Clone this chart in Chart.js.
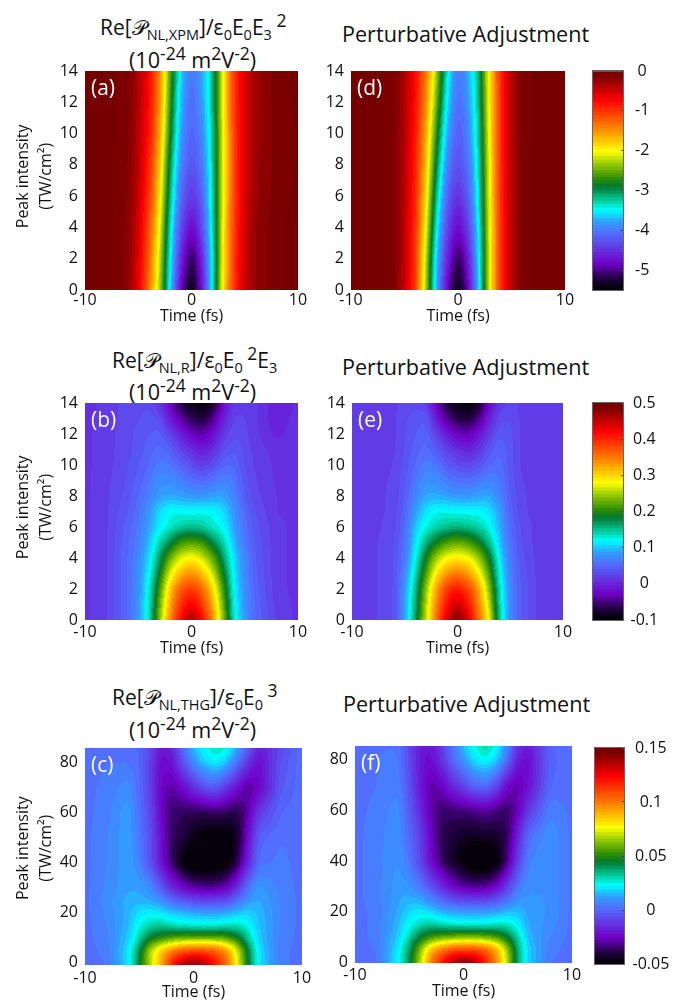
<!DOCTYPE html>
<html lang="en">

<head>
    <meta charset="UTF-8">
    <title>Perturbative Adjustment</title>
    <script src="https://cdn.jsdelivr.net/npm/chart.js"></script>
    <style>
        body {
            margin: 0;
            background: #FFFFFF;
            width: 693px;
            height: 1003px;
            position: relative;
            overflow: hidden;
            font-family: 'Open Sans', sans-serif;
            color: #111;
        }

        canvas {
            position: absolute;
        }

        .ttl {
            position: absolute;
            font-size: 21px;
            line-height: 26px;
            white-space: nowrap;
        }

        .ttl.big {
            font-size: 21.6px;
        }

        .ttl sub,
        .ttl sup {
            font-size: 14.5px;
            line-height: 0;
        }

        .ttl sub {
            vertical-align: -5px;
        }

        .ttl sup {
            font-size: 17.5px;
            vertical-align: 8px;
        }
    </style>
</head>

<body>
    <div class="ttl" style="left:100px;top:14px">Re[𝒫<sub>NL,XPM</sub>]/ε<sub>0</sub>E<sub>0</sub>E<sub>3</sub><sup>&nbsp;2</sup></div>
    <div class="ttl big" style="left:129px;top:47px">(10<sup>-24</sup> m<sup>2</sup>V<sup>-2</sup>)</div>
    <div class="ttl big" style="left:342px;top:21px">Perturbative Adjustment</div>

    <div class="ttl" style="left:112px;top:347px">Re[𝒫<sub>NL,R</sub>]/ε<sub>0</sub>E<sub>0</sub><sup>&nbsp;2</sup>E<sub>3</sub></div>
    <div class="ttl big" style="left:129px;top:379px">(10<sup>-24</sup> m<sup>2</sup>V<sup>-2</sup>)</div>
    <div class="ttl big" style="left:342px;top:354px">Perturbative Adjustment</div>

    <div class="ttl" style="left:112px;top:684px">Re[𝒫<sub>NL,THG</sub>]/ε<sub>0</sub>E<sub>0</sub><sup>&nbsp;3</sup></div>
    <div class="ttl big" style="left:129px;top:717px">(10<sup>-24</sup> m<sup>2</sup>V<sup>-2</sup>)</div>
    <div class="ttl big" style="left:343px;top:691px">Perturbative Adjustment</div>

    <script>
        const timeCols = [-10, -8, -6, -5, -4, -3, -2, -1, 0, 1, 2, 3, 4, 5, 6, 8, 10];
        const timeTicks = [-10, 0, 10];

        const rowsAD = [0, 2, 4, 6, 8, 10, 12, 14];
        const rowsBE = [0, 2, 4, 5, 6, 7, 8, 10, 11, 12, 13, 14];
        const rowsCF = [0, 5, 10, 15, 20, 25, 30, 40, 50, 60, 70, 80, 85];
        const ticksAD = [0, 2, 4, 6, 8, 10, 12, 14];
        const ticksCF = [0, 20, 40, 60, 80];

        // values, one line per row of peak intensity
        const valuesA = [
            [-.05, -.05, -.2, -.6, -1.35, -2.25, -3.6, -4.85, -5.5, -4.75, -3.4, -1.85, -1.0, -.45, -.25, -.1, -.05],
            [-.05, -.05, -.2, -.55, -1.25, -2.15, -3.5, -4.6, -5.25, -4.6, -3.4, -1.9, -1.0, -.5, -.25, -.1, -.05],
            [-.05, -.05, -.18, -.5, -1.15, -2.0, -3.4, -4.35, -4.85, -4.35, -3.35, -1.95, -1.05, -.5, -.25, -.1, -.05],
            [-.05, -.05, -.16, -.45, -1.0, -1.85, -3.2, -4.15, -4.5, -4.2, -3.3, -2.0, -1.05, -.55, -.28, -.12, -.06],
            [-.05, -.05, -.15, -.42, -.9, -1.7, -3.05, -4.0, -4.3, -4.05, -3.3, -2.0, -1.05, -.55, -.28, -.14, -.07],
            [-.05, -.05, -.14, -.4, -.8, -1.55, -2.85, -3.85, -4.2, -3.95, -3.25, -2.0, -1.05, -.55, -.3, -.14, -.07],
            [-.05, -.05, -.13, -.37, -.75, -1.45, -2.7, -3.75, -4.15, -3.85, -3.2, -2.0, -1.0, -.55, -.3, -.13, -.06],
            [-.05, -.05, -.12, -.35, -.7, -1.4, -2.6, -3.65, -4.1, -3.8, -3.2, -2.0, -1.0, -.55, -.3, -.12, -.05]
        ];
        const valuesD = [
            [-.05, -.05, -.12, -.45, -1.0, -2.3, -3.8, -4.85, -5.5, -4.85, -3.55, -2.0, -.95, -.4, -.12, -.05, -.05],
            [-.05, -.05, -.12, -.42, -.98, -2.2, -3.7, -4.6, -5.25, -4.65, -3.5, -2.0, -.95, -.4, -.12, -.05, -.05],
            [-.05, -.05, -.12, -.42, -.95, -2.0, -3.5, -4.4, -4.85, -4.4, -3.45, -1.98, -.95, -.4, -.12, -.05, -.05],
            [-.05, -.05, -.12, -.4, -.9, -1.85, -3.25, -4.2, -4.55, -4.2, -3.35, -1.95, -.93, -.4, -.12, -.05, -.05],
            [-.05, -.05, -.12, -.4, -.87, -1.7, -3.0, -4.0, -4.35, -4.05, -3.3, -1.95, -.92, -.4, -.12, -.05, -.05],
            [-.05, -.05, -.12, -.38, -.83, -1.6, -2.75, -3.8, -4.25, -3.95, -3.2, -1.92, -.9, -.38, -.12, -.05, -.05],
            [-.05, -.05, -.12, -.37, -.78, -1.45, -2.5, -3.6, -4.15, -3.85, -3.15, -1.88, -.9, -.38, -.12, -.05, -.05],
            [-.05, -.05, -.12, -.35, -.75, -1.35, -2.3, -3.45, -4.1, -3.75, -3.1, -1.85, -.9, -.38, -.12, -.05, -.05]
        ];
        const valuesB = [
            [.01, .02, .05, .08, .13, .24, .344, .42, .47, .42, .34, .24, .125, .08, .05, .02, .01],
            [.01, .02, .05, .075, .125, .21, .31, .37, .39, .36, .3, .21, .115, .075, .045, .015, .01],
            [.01, .02, .05, .07, .105, .165, .23, .27, .285, .265, .225, .165, .105, .07, .04, .015, .01],
            [.01, .02, .048, .065, .095, .14, .175, .21, .22, .21, .175, .14, .095, .06, .038, .015, .01],
            [.01, .02, .045, .06, .085, .115, .13, .145, .15, .145, .13, .12, .085, .055, .035, .015, .01],
            [.01, .02, .04, .055, .08, .108, .122, .122, .118, .122, .12, .108, .08, .05, .03, .012, .01],
            [.01, .02, .035, .05, .065, .085, .09, .085, .08, .08, .085, .088, .068, .04, .025, .012, .01],
            [.01, .018, .03, .04, .05, .065, .06, .045, .03, .015, .03, .05, .05, .03, .02, .01, .01],
            [.01, .018, .028, .035, .045, .055, .045, .02, .005, -.01, .005, .03, .04, .028, .018, .008, .01],
            [.01, .018, .028, .035, .04, .045, .02, -.005, -.03, -.04, -.02, .015, .03, .025, .015, 0, .01],
            [.01, .015, .028, .03, .035, .03, -.01, -.04, -.065, -.075, -.05, -.005, .025, .022, .015, -.005, .008],
            [.01, .015, .028, .03, .03, .01, -.03, -.07, -.09, -.1, -.08, -.025, .015, .02, .015, -.005, .005]
        ];
        const valuesE = [
            [.015, .02, .03, .085, .165, .26, .36, .44, .49, .44, .36, .28, .14, .07, .04, .015, .015],
            [.015, .02, .03, .08, .15, .24, .33, .39, .41, .385, .33, .24, .13, .07, .04, .015, .015],
            [.015, .02, .03, .06, .12, .19, .25, .28, .29, .28, .245, .19, .11, .06, .035, .015, .015],
            [.015, .02, .03, .055, .11, .155, .19, .215, .225, .215, .19, .15, .1, .055, .03, .015, .015],
            [.015, .018, .028, .05, .1, .125, .14, .15, .155, .15, .14, .125, .09, .05, .03, .015, .015],
            [.015, .018, .025, .045, .085, .11, .124, .124, .12, .12, .12, .11, .085, .045, .025, .015, .015],
            [.015, .018, .025, .04, .068, .09, .09, .085, .08, .08, .085, .09, .068, .04, .025, .015, .015],
            [.015, .018, .022, .035, .05, .065, .06, .04, .03, .025, .035, .05, .055, .035, .02, .015, .015],
            [.015, .018, .02, .032, .045, .055, .04, .02, .005, -.005, .01, .035, .05, .035, .02, .015, .015],
            [.015, .018, .02, .03, .04, .05, .02, -.01, -.03, -.035, -.015, .015, .04, .035, .02, .015, .015],
            [.015, .018, .02, .03, .035, .04, -.01, -.045, -.07, -.075, -.05, -.005, .03, .03, .02, .015, .015],
            [.015, .018, .02, .025, .03, .02, -.03, -.075, -.095, -.1, -.08, -.025, .015, .025, .02, .015, .015]
        ];
        const valuesC = [
            [.002, .003, .02, .044, .068, .09, .118, .135, .142, .135, .12, .105, .076, .046, .02, .004, .002],
            [.002, .004, .02, .04, .068, .085, .097, .105, .108, .108, .105, .095, .073, .043, .02, .004, .002],
            [.002, .005, .017, .03, .044, .05, .055, .058, .058, .058, .058, .055, .047, .032, .017, .005, .002],
            [.002, .006, .015, .024, .03, .032, .028, .026, .025, .024, .025, .027, .028, .024, .016, .006, .002],
            [.002, .007, .014, .02, .022, .02, .017, .015, .013, .012, .012, .013, .016, .018, .015, .006, .002],
            [.002, .008, .014, .014, .012, .008, 0, -.006, -.009, -.011, -.01, -.008, 0, .01, .013, .006, .002],
            [.002, .007, .012, .012, .008, -.004, -.016, -.024, -.03, -.032, -.032, -.028, -.015, .002, .011, .005, .002],
            [.002, .006, .012, .006, -.006, -.022, -.036, -.05, -.056, -.056, -.055, -.052, -.04, -.018, .002, .004, .002],
            [.002, .006, .012, .004, -.006, -.022, -.037, -.04, -.047, -.05, -.053, -.052, -.045, -.024, -.002, .003, .002],
            [.002, .005, .012, .002, -.008, -.026, -.036, -.037, -.038, -.038, -.036, -.037, -.04, -.03, -.012, 0, .002],
            [.002, .004, .008, .001, -.01, -.026, -.03, -.024, -.014, -.006, -.002, -.012, -.022, -.032, -.027, -.004, .002],
            [.002, .003, .003, 0, -.01, -.024, -.022, -.006, .008, .018, .022, .017, .002, -.012, -.024, -.006, .002],
            [.002, .002, .002, 0, -.008, -.022, -.018, 0, .015, .023, .028, .026, .012, -.003, -.02, -.008, .002]
        ];
        const valuesF = [
            [.002, .002, .023, .04, .068, .1, .12, .137, .145, .137, .12, .098, .07, .036, .017, .003, .002],
            [.002, .003, .021, .038, .062, .088, .1, .108, .11, .11, .105, .092, .066, .036, .017, .004, .002],
            [.002, .004, .017, .03, .044, .052, .056, .058, .06, .06, .058, .054, .045, .03, .014, .006, .002],
            [.002, .004, .015, .023, .029, .032, .028, .026, .025, .024, .025, .027, .027, .022, .012, .008, .002],
            [.002, .004, .013, .019, .021, .018, .014, .012, .011, .011, .011, .012, .015, .016, .011, .009, .002],
            [.002, .005, .012, .014, .012, .006, -.002, -.008, -.011, -.012, -.012, -.008, 0, .009, .01, .009, .002],
            [.002, .005, .011, .01, .004, -.006, -.016, -.026, -.031, -.033, -.032, -.026, -.012, .003, .009, .009, .002],
            [.002, .005, .01, .003, -.008, -.024, -.036, -.044, -.05, -.056, -.056, -.052, -.035, -.01, .006, .009, .002],
            [.002, .005, .009, 0, -.01, -.026, -.038, -.042, -.044, -.045, -.044, -.043, -.038, -.018, .002, .009, .002],
            [.002, .004, .008, -.003, -.016, -.03, -.036, -.035, -.034, -.033, -.03, -.034, -.037, -.028, -.012, .006, .002],
            [.002, .003, .006, -.006, -.02, -.03, -.026, -.016, -.008, 0, .002, -.006, -.024, -.03, -.022, 0, .002],
            [.002, .003, .004, -.008, -.02, -.024, -.014, 0, .01, .02, .024, .018, .002, -.02, -.024, -.001, .002],
            [.002, .003, .003, -.008, -.02, -.022, -.012, .003, .016, .024, .031, .024, .008, -.015, -.02, 0, .002]
        ];

        const barTicks1 = [0, -1, -2, -3, -4, -5];
        const barTicks2 = [0.5, 0.4, 0.3, 0.2, 0.1, 0, -0.1];
        const barTicks3 = [0.15, 0.1, 0.05, 0, -0.05];

        // colormap stops from the colorbars, bottom to top
        const mapStops = [
            [0, '#000000'], [.05, '#200040'], [.12, '#7000c8'], [.2, '#6040e8'], [.26, '#5070ff'],
            [.31, '#30a0ff'], [.363, '#00ffff'], [.405, '#00d0a0'], [.47, '#007830'], [.51, '#309000'],
            [.58, '#a0d000'], [.63, '#ffff00'], [.74, '#ff8000'], [.867, '#ff0000'], [.97, '#800000'], [1, '#700000']
        ];
        const LEVELS = 64;

        const FONT = "'Open Sans', sans-serif";
        Chart.defaults.font.family = FONT;
        Chart.defaults.font.size = 16;
        Chart.defaults.color = '#111';
        Chart.defaults.animation = false;
        Chart.defaults.responsive = false;
        Chart.defaults.plugins.legend.display = false;
        Chart.defaults.plugins.tooltip.enabled = false;

        function hexRgb(h) {
            return [1, 3, 5].map(i => parseInt(h.substr(i, 2), 16));
        }

        const ramp = [];
        for (let i = 0; i < LEVELS; i++) {
            let f = (i + .5) / LEVELS;
            let k = 0;
            while (k < mapStops.length - 2 && f > mapStops[k + 1][0]) k++;
            let a = mapStops[k], b = mapStops[k + 1];
            let u = (f - a[0]) / (b[0] - a[0]);
            let ca = hexRgb(a[1]), cb = hexRgb(b[1]);
            ramp.push(ca.map((c, j) => Math.round(c + (cb[j] - c) * u)));
        }

        function colorIndex(v, lo, hi) {
            let i = Math.floor((v - lo) / (hi - lo) * LEVELS);
            return Math.max(0, Math.min(LEVELS - 1, i));
        }

        function findCell(list, v) {
            let i = 0;
            while (i < list.length - 2 && v > list[i + 1]) i++;
            let u = (v - list[i]) / (list[i + 1] - list[i]);
            return [i, Math.max(0, Math.min(1, u))];
        }

        function boxBlur(field, w, h, r) {
            let out = new Float64Array(field.length);
            for (let y = 0; y < h; y++) {
                for (let x = 0; x < w; x++) {
                    let s = 0;
                    for (let d = -r; d <= r; d++) s += field[y * w + Math.max(0, Math.min(w - 1, x + d))];
                    out[y * w + x] = s / (2 * r + 1);
                }
            }
            let res = new Float64Array(field.length);
            for (let x = 0; x < w; x++) {
                for (let y = 0; y < h; y++) {
                    let s = 0;
                    for (let d = -r; d <= r; d++) s += out[Math.max(0, Math.min(h - 1, y + d)) * w + x];
                    res[y * w + x] = s / (2 * r + 1);
                }
            }
            return res;
        }

        // shades the plot area from the dataset's cells, using the chart's own scales
        const heatCells = {
            id: 'heatCells',
            beforeDatasetsDraw(chart, args, opts) {
                const area = chart.chartArea, sx = chart.scales.x, sy = chart.scales.y;
                const cols = opts.cols, rows = opts.rows, pts = chart.data.datasets[0].data;
                const w = Math.round(area.right - area.left), h = Math.round(area.bottom - area.top);
                let field = new Float64Array(w * h);
                for (let py = 0; py < h; py++) {
                    let [r, ur] = findCell(rows, sy.getValueForPixel(area.top + py + .5));
                    for (let px = 0; px < w; px++) {
                        let [c, uc] = findCell(cols, sx.getValueForPixel(area.left + px + .5));
                        let n = cols.length;
                        let v0 = pts[r * n + c].v * (1 - uc) + pts[r * n + c + 1].v * uc;
                        let v1 = pts[(r + 1) * n + c].v * (1 - uc) + pts[(r + 1) * n + c + 1].v * uc;
                        field[py * w + px] = v0 * (1 - ur) + v1 * ur;
                    }
                }
                field = boxBlur(boxBlur(field, w, h, 3), w, h, 3);
                const off = document.createElement('canvas');
                off.width = w;
                off.height = h;
                const octx = off.getContext('2d');
                const img = octx.createImageData(w, h);
                for (let i = 0; i < w * h; i++) {
                    let rgb = ramp[colorIndex(field[i], opts.lo, opts.hi)];
                    img.data[i * 4] = rgb[0];
                    img.data[i * 4 + 1] = rgb[1];
                    img.data[i * 4 + 2] = rgb[2];
                    img.data[i * 4 + 3] = 255;
                }
                octx.putImageData(img, 0, 0);
                chart.ctx.drawImage(off, area.left, area.top);
            },
            afterDraw(chart, args, opts) {
                const ctx = chart.ctx, area = chart.chartArea;
                ctx.save();
                ctx.fillStyle = '#fff';
                ctx.font = '21px ' + FONT;
                ctx.textBaseline = 'middle';
                ctx.fillText(opts.letter, area.left + 6, area.top + 18);
                ctx.restore();
            }
        };

        function addCanvas(left, top, w, h) {
            const c = document.createElement('canvas');
            c.width = w;
            c.height = h;
            c.style.left = left + 'px';
            c.style.top = top + 'px';
            document.body.appendChild(c);
            return c;
        }

        function heatPanel(p) {
            const TOP = 24, RIGHT = 20;
            const boxLeft = p.title ? 0 : p.left - 30;
            const canvas = addCanvas(boxLeft, p.top - TOP, p.right - boxLeft + RIGHT, p.bottom - p.top + TOP + p.xBox);
            const points = [];
            p.rows.forEach((y, r) => timeCols.forEach((x, c) => points.push({ x: x, y: y, v: p.values[r][c] })));
            new Chart(canvas, {
                type: 'scatter',
                data: { datasets: [{ data: points, pointRadius: 0 }] },
                plugins: [heatCells],
                options: {
                    layout: { padding: { top: TOP, right: RIGHT, left: 0, bottom: 0 } },
                    plugins: { heatCells: { cols: timeCols, rows: p.rows, lo: p.lo, hi: p.hi, letter: p.letter } },
                    scales: {
                        x: {
                            type: 'linear',
                            min: -10,
                            max: 10,
                            grid: { display: false, drawTicks: false },
                            border: { display: false },
                            ticks: { padding: p.xPad, maxRotation: 0, autoSkip: false },
                            afterBuildTicks: s => { s.ticks = timeTicks.map(v => ({ value: v })); },
                            afterFit: s => { s.height = p.xBox; },
                            title: { display: true, text: 'Time (fs)', padding: 0 }
                        },
                        y: {
                            type: 'linear',
                            min: p.yMin,
                            max: p.yMax,
                            grid: { display: false, drawTicks: false },
                            border: { display: false },
                            ticks: { padding: 7, autoSkip: false },
                            afterBuildTicks: s => { s.ticks = p.yTicks.map(v => ({ value: v })); },
                            afterFit: s => { s.width = p.left - boxLeft; },
                            title: p.title ? { display: true, text: p.title, padding: { top: 12, bottom: 0 }, font: { lineHeight: 1.44 } } : { display: false }
                        }
                    }
                }
            });
        }

        function colorBar(p) {
            const TOP = 30, BOX = 62;
            const canvas = addCanvas(p.left, p.top - TOP, p.right - p.left + BOX, p.bottom - p.top + TOP * 2);
            const sets = ramp.map((rgb, i) => ({
                data: [[p.lo, p.lo + (i + 1) * (p.hi - p.lo) / LEVELS]],
                backgroundColor: 'rgb(' + rgb.join(',') + ')',
                grouped: false,
                barPercentage: 1,
                categoryPercentage: 1
            }));
            new Chart(canvas, {
                type: 'bar',
                data: { labels: [''], datasets: sets },
                plugins: [{
                    id: 'barFrame',
                    afterDraw(chart) {
                        const a = chart.chartArea;
                        chart.ctx.strokeStyle = '#666';
                        chart.ctx.lineWidth = 1;
                        chart.ctx.strokeRect(a.left + .5, a.top - .5, a.right - a.left - 1, a.bottom - a.top + 1);
                    }
                }],
                options: {
                    layout: { padding: { top: TOP, bottom: TOP, left: 0, right: 0 } },
                    scales: {
                        x: { display: false },
                        y: {
                            position: 'right',
                            min: p.lo,
                            max: p.hi,
                            grid: { drawOnChartArea: false, drawTicks: true, tickLength: -3, tickColor: '#444', z: 2 },
                            border: { display: false },
                            ticks: { padding: p.pad + 3, crossAlign: 'center', autoSkip: false, callback: v => String(v) },
                            afterBuildTicks: s => { s.ticks = p.ticks.map(v => ({ value: v })); },
                            afterFit: s => { s.width = BOX; }
                        }
                    }
                }
            });
        }

        const yTitle = ['Peak intensity', '(TW/cm²)'];

        heatPanel({ letter: '(a)', values: valuesA, rows: rowsAD, yTicks: ticksAD, yMin: 0, yMax: 14, lo: -5.5, hi: 0, left: 85, right: 298, top: 71, bottom: 290, xBox: 36, xPad: 1, title: ['  ' + yTitle[0], '  ' + yTitle[1]] });
        heatPanel({ letter: '(d)', values: valuesD, rows: rowsAD, yTicks: ticksAD, yMin: 0, yMax: 14, lo: -5.5, hi: 0, left: 351, right: 565, top: 71, bottom: 290, xBox: 36, xPad: 1 });
        heatPanel({ letter: '(b)', values: valuesB, rows: rowsBE, yTicks: ticksAD, yMin: 0, yMax: 14, lo: -.1, hi: .5, left: 85, right: 298, top: 403, bottom: 620, xBox: 38, xPad: 3, title: ['  ' + yTitle[0], '  ' + yTitle[1]] });
        heatPanel({ letter: '(e)', values: valuesE, rows: rowsBE, yTicks: ticksAD, yMin: 0, yMax: 14, lo: -.1, hi: .5, left: 352, right: 563, top: 403, bottom: 620, xBox: 38, xPad: 3 });
        heatPanel({ letter: '(c)', values: valuesC, rows: rowsCF, yTicks: ticksCF, yMin: -.9, yMax: 85.6, lo: -.05, hi: .15, left: 85, right: 302, top: 748, bottom: 965, xBox: 37, xPad: 4, title: ['    ' + yTitle[0], '    ' + yTitle[1]] });
        heatPanel({ letter: '(f)', values: valuesF, rows: rowsCF, yTicks: ticksCF, yMin: -.4, yMax: 85.5, lo: -.05, hi: .15, left: 355, right: 572, top: 746, bottom: 963, xBox: 38, xPad: 3 });

        colorBar({ ticks: barTicks1, lo: -5.5, hi: 0, left: 592, right: 624, top: 71, bottom: 290, pad: 11 });
        colorBar({ ticks: barTicks2, lo: -.1, hi: .5, left: 592, right: 624, top: 403, bottom: 620, pad: 6.5 });
        colorBar({ ticks: barTicks3, lo: -.05, hi: .15, left: 594, right: 625, top: 748, bottom: 964, pad: 7.5 });
    </script>
</body>

</html>
